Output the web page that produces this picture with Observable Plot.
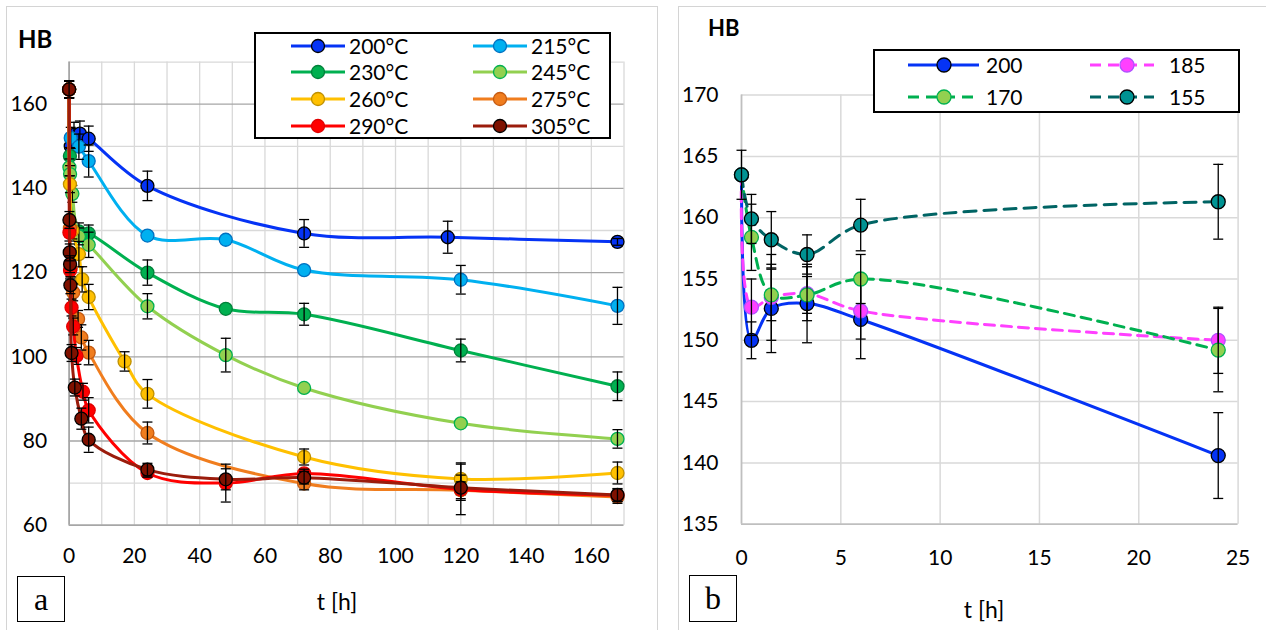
<!DOCTYPE html>
<html><head><meta charset="utf-8">
<script src="https://cdn.jsdelivr.net/npm/d3@7"></script>
<script src="https://cdn.jsdelivr.net/npm/@observablehq/plot@0.6"></script>
<style>
body{margin:0;background:#fff;font-family:Lato,"Open Sans",sans-serif;}
#wrap{position:relative;width:1266px;height:630px;overflow:hidden;background:#fff}
.abs{position:absolute}
.frame{position:absolute;border:1.5px solid #d4d4d4;box-sizing:border-box}
.leg{position:absolute;border:2px solid #000;box-sizing:border-box;background:#fff}
.txt{position:absolute;font-size:21px;line-height:24px;white-space:nowrap}
.hb{position:absolute;font-weight:bold;line-height:1}
.xl{position:absolute;font-size:23px;transform:translate(-50%,-50%);white-space:nowrap}
.pl{position:absolute;border:1.5px solid #000;box-sizing:border-box;font-family:"Liberation Serif","DejaVu Serif",serif;font-size:32px;display:flex;align-items:center;justify-content:center;background:#fff}
</style></head>
<body>
<div id="wrap">
  <div id="plotA" class="abs" style="left:0;top:0"></div>
  <div id="plotB" class="abs" style="left:640px;top:0"></div>
</div>
<script>
// ---------------- Panel a data ----------------
const seriesA = ["200°C","215°C","230°C","245°C","260°C","275°C","290°C","305°C"];
const tA200 = [0,0.5,1.5,3.3,6,24,72,116,168];
const hbA200 = [163.5,150,152.7,153,151.8,140.6,129.3,128.4,127.3];
const erA200 = [2,1.5,3,3,3,3.5,3.3,3.8,0.8];
const tA215 = [0,0.5,3,6,24,48,72,120,168];
const hbA215 = [163.5,152,149.9,146.5,128.8,127.8,120.6,118.3,112.1];
const erA215 = [2,2.5,3,3.8,0,0,0,3.4,4.4];
const tA230 = [0,0.25,3,6,24,48,72,120,168];
const hbA230 = [163.5,147.7,129.8,129.3,120,111.4,110.1,101.5,93];
const erA230 = [2,2,2,2,3,0,2.6,2.7,3.4];
const tA245 = [0,0.1,0.3,1,3,6,24,48,72,120,168];
const hbA245 = [163.5,145,143.4,138.7,128.6,126.6,112,100.4,92.6,84.2,80.5];
const erA245 = [2,2,2,2,2,3,3,4,0,0,2.2];
const tA260 = [0,0.25,1,3,4,6,17,24,72,120,168];
const hbA260 = [163.5,141,130,124.4,118.4,114.2,98.9,91.2,76.2,71,72.4];
const erA260 = [2,2,2,3,3,3,2.3,3.4,1.9,3.8,2.6];
const tA275 = [0,0.25,0.5,1.25,2.75,3.75,6,24,72,120,168];
const hbA275 = [163.5,130.5,121,115.3,109,104.6,101,81.9,69.9,68.3,66.7];
const erA275 = [2,2,2,2,2,3,2.9,2.6,1.5,2,1.5];
const tA290 = [0,0.1,0.3,0.75,1.25,2.25,4.25,6,24,48,72,120,168];
const hbA290 = [163.5,129.5,120.5,111.7,107.2,100.2,91.7,87.3,72.4,70,72.3,68.5,67.1];
const erA290 = [2,2,2,2,2,2,2,3,1,4.5,1,6,1.5];
const tA305 = [0,0.1,0.2,0.3,0.4,0.75,1.75,3.75,6,24,48,72,120,168];
const hbA305 = [163.5,132.5,124.8,122,117,100.9,92.7,85.3,80.3,73.2,70.9,71.3,68.9,67.2];
const erA305 = [2,2,2,2,2,2,2,2.5,3,1.5,2.5,1.5,3,1.5];
const xTicksA = [0,20,40,60,80,100,120,140,160];
const yTicksA = [60,80,100,120,140,160];

// ---------------- Panel b data ----------------
const seriesB = ["200","185","170","155"];
const tB = [0,0.5,1.5,3.3,6,24];
const hbB200 = [163.5,150,152.6,153,151.7,140.6];
const erB200 = [0,1.5,3.6,3.2,3.2,3.5];
const hbB185 = [163.5,152.7,153.5,153.8,152.4,150];
const erB185 = [0,2.3,3.5,2.2,2.3,2.7];
const hbB170 = [163.5,158.4,153.7,153.7,155,149.2];
const erB170 = [0,2.7,2.1,1.5,2,3.4];
const hbB155 = [163.5,159.9,158.2,157,159.4,161.3];
const erB155 = [2,2,2.3,1.6,2.1,3.05];
const xTicksB = [0,5,10,15,20,25];
const yTicksB = [135,140,145,150,155,160,165,170];

// ---------------- styles ----------------
const lineA = ["#0533f5","#00b0f0","#00b050","#92d050","#ffc000","#f07d1e","#ff0000","#9b1c0c"];
const fillA = ["#0533f5","#00b0f0","#00b050","#92d050","#ffc000","#f07d1e","#ff0000","#7f1100"];
const edgeA = ["#000000","#0070c0","#00803a","#00b050","#bf9000","#c55a11","#e00000","#000000"];
const lineB = ["#0533f5","#ff40ff","#00b050","#006464"];
const fillB = ["#0533f5","#ff40ff","#92d050","#009393"];
const edgeB = ["#000000","#b050ff","#00b050","#000000"];
const dashB = [null,"10,7","10,7","12,8"];

const tablesA = [
  [tA200,hbA200,erA200],[tA215,hbA215,erA215],[tA230,hbA230,erA230],[tA245,hbA245,erA245],
  [tA260,hbA260,erA260],[tA275,hbA275,erA275],[tA290,hbA290,erA290],[tA305,hbA305,erA305]
].map(([t,hb,er],k)=>t.map((tt,i)=>({t:tt,hb:hb[i],e:er[i],k})));
const tablesB = [[hbB200,erB200],[hbB185,erB185],[hbB170,erB170],[hbB155,erB155]]
  .map(([hb,er],k)=>tB.map((tt,i)=>({t:tt,hb:hb[i],e:er[i],k})));

const capSymbol = {draw(ctx,size){const r=Math.sqrt(size/Math.PI);ctx.moveTo(-r,0);ctx.lineTo(r,0);}};

function seriesMarks(rows, line, fill, edge, dash, r){
  const eb = rows.filter(d=>d.e>0);
  const caps = eb.flatMap(d=>[{t:d.t,y:d.hb-d.e},{t:d.t,y:d.hb+d.e}]);
  return [
    Plot.line(rows,{x:"t",y:"hb",stroke:line,strokeWidth:3,curve:"catmull-rom",strokeDasharray:dash||undefined}),
    Plot.dot(rows,{x:"t",y:"hb",r,fill,stroke:edge,strokeWidth:1.3}),
    Plot.ruleX(eb,{x:"t",y1:d=>d.hb-d.e,y2:d=>d.hb+d.e,stroke:"#000",strokeWidth:1.3}),
    Plot.dot(caps,{x:"t",y:"y",symbol:capSymbol,r:5,fill:"none",stroke:"#000",strokeWidth:1.3})
  ];
}

const fontStyle = {fontFamily:"Lato, 'Open Sans', sans-serif",fontSize:"21px",color:"#000",background:"transparent",overflow:"visible"};

const plotA = Plot.plot({
  width:640,height:630,
  marginLeft:68.6,marginRight:16.5,marginTop:61.6,marginBottom:105.3,
  x:{domain:[0,170],ticks:xTicksA,tickSize:0,tickPadding:23,label:null},
  y:{domain:[60,170],ticks:yTicksA,tickSize:0,tickPadding:22,label:null},
  style:fontStyle,
  marks:[
    Plot.ruleX(d3.range(10,171,10),{stroke:"#d9d9d9",strokeWidth:1.3}),
    Plot.ruleY(d3.range(70,171,20),{stroke:"#d9d9d9",strokeWidth:1.3}),
    Plot.ruleY(d3.range(80,161,20),{stroke:"#a6a6a6",strokeWidth:1.3}),
    Plot.ruleX([0],{stroke:"#a6a6a6",strokeWidth:1.8}),
    Plot.ruleY([60],{stroke:"#a6a6a6",strokeWidth:1.8}),
    ...tablesA.flatMap((rows,k)=>seriesMarks(rows,lineA[k],fillA[k],edgeA[k],null,6.5))
  ]
});
document.getElementById("plotA").appendChild(plotA);

const plotB = Plot.plot({
  width:626,height:630,
  marginLeft:101,marginRight:28.4,marginTop:94.6,marginBottom:106.3,
  x:{domain:[0,25],ticks:xTicksB,tickSize:0,tickPadding:26,label:null},
  y:{domain:[135,170],ticks:yTicksB,tickSize:0,tickPadding:23,label:null},
  style:fontStyle,
  marks:[
    Plot.ruleX(d3.range(5,26,5),{stroke:"#d9d9d9",strokeWidth:1.5}),
    Plot.ruleY(d3.range(140,171,5),{stroke:"#d9d9d9",strokeWidth:1.5}),
    Plot.ruleX([0],{stroke:"#bfbfbf",strokeWidth:1.8}),
    Plot.ruleY([135],{stroke:"#bfbfbf",strokeWidth:1.8}),
    ...tablesB.flatMap((rows,k)=>seriesMarks(rows,lineB[k],fillB[k],edgeB[k],dashB[k],7))
  ]
});
document.getElementById("plotB").appendChild(plotB);

// ---------------- decorations ----------------
const wrap = document.getElementById("wrap");
function add(html){wrap.insertAdjacentHTML("beforeend",html);}
add(`<div class="frame" style="left:6px;top:6px;width:652px;height:640px"></div>`);
add(`<div class="frame" style="left:678px;top:6px;width:600px;height:640px"></div>`);
add(`<div class="hb" style="left:18px;top:27px;font-size:24px">HB</div>`);
add(`<div class="hb" style="left:708px;top:17px;font-size:22px">HB</div>`);
add(`<div class="xl" style="left:337px;top:601px">t [h]</div>`);
add(`<div class="xl" style="left:984px;top:609px">t [h]</div>`);
add(`<div class="pl" style="left:17px;top:576px;width:48px;height:46px">a</div>`);
add(`<div class="pl" style="left:689px;top:575px;width:48px;height:47px">b</div>`);

function swatch(x,y,w,mx,line,fill,edge,dash,r){
  return `<svg class="abs" style="left:${x}px;top:${y-9}px" width="${w}" height="18">
    <line x1="0" y1="9" x2="${w}" y2="9" stroke="${line}" stroke-width="3" ${dash?`stroke-dasharray="${dash}"`:""}/>
    <circle cx="${mx}" cy="9" r="${r}" fill="${fill}" stroke="${edge}" stroke-width="1.3"/></svg>`;
}
add(`<div class="leg" style="left:254px;top:32px;width:357px;height:107px"></div>`);
const rowsA=[45.5,72,98.5,125.5], colLineA=[291,473], colTextA=[349,531];
seriesA.forEach((name,k)=>{
  const r=Math.floor(k/2), c=k%2;
  add(swatch(colLineA[c],rowsA[r],54,27,lineA[k],fillA[k],edgeA[k],null,6.5));
  add(`<div class="txt" style="left:${colTextA[c]}px;top:${rowsA[r]-12}px">${name}</div>`);
});
add(`<div class="leg" style="left:873px;top:49px;width:367px;height:64px"></div>`);
const rowsB=[65,96.5], colLineB=[908,1090], colW=[71,64], colM=[36,37], colTextB=[986,1169];
const dashLeg=[null,"11,7","11,7","11,7"];
seriesB.forEach((name,k)=>{
  const r=Math.floor(k/2), c=k%2;
  add(swatch(colLineB[c],rowsB[r],colW[c],colM[c],lineB[k],fillB[k],edgeB[k],dashLeg[k],7));
  add(`<div class="txt" style="left:${colTextB[c]}px;top:${rowsB[r]-12}px">${name}</div>`);
});
</script>
</body></html>
